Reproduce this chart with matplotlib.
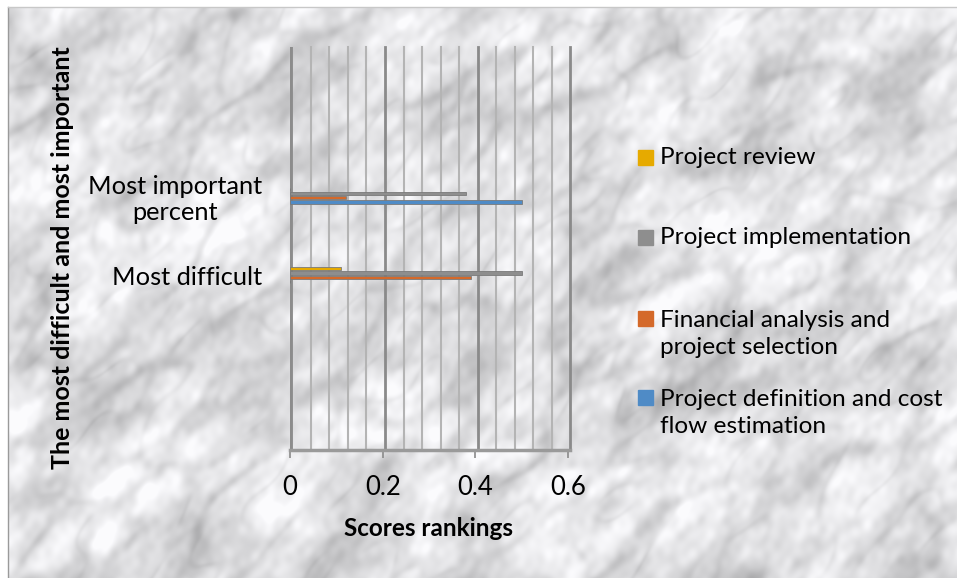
import numpy as np
import matplotlib
matplotlib.use("Agg")
import matplotlib.pyplot as plt
from matplotlib.patches import Rectangle

# ---- data ----
categories = ["Most difficult", "Most important\npercent"]
series_names = [
    "Project review",
    "Project implementation",
    "Financial analysis and\nproject selection",
    "Project definition and cost\nflow estimation",
]
project_review = [0.11, 0.0]
project_implementation = [0.50, 0.38]
financial_analysis = [0.39, 0.12]
project_definition = [0.0, 0.50]
series_values = [project_review, project_implementation, financial_analysis, project_definition]
series_colors = ["#E6AA00", "#8E8E8E", "#D4692A", "#4F8BC6"]
x_ticks = [0, 0.2, 0.4, 0.6]
x_tick_labels = ["0", "0.2", "0.4", "0.6"]

FONT = ["Lato", "DejaVu Sans"]
plt.rcParams["font.family"] = FONT

W, H = 957, 578
fig = plt.figure(figsize=(W / 100, H / 100), dpi=100)
fig.patch.set_facecolor("white")

# ---- marble backdrop (deterministic wave sums, streaks running "/") ----
yy, xx = np.mgrid[0:H, 0:W].astype(float) / 100.0
along = (xx - yy) / np.sqrt(2)
across = (xx + yy) / np.sqrt(2)
golden = 2.399963


def wave_field(n, base, growth, seed, stretch):
    out = np.zeros_like(xx)
    for k in range(1, n + 1):
        ang = k * golden + seed
        f = base * growth ** (k % 9)
        out += np.sin(f * (np.cos(ang) * along * stretch + np.sin(ang) * across)
                      + 1.37 * k + seed) / np.sqrt(f)
    return out / out.std()


blotch = wave_field(30, 3.5, 1.25, 0.3, 0.55)
veins = wave_field(30, 3.0, 1.22, 1.9, 0.5)
veins2 = wave_field(30, 5.0, 1.2, 4.2, 0.6)
grain = wave_field(24, 16.0, 1.2, 3.1, 0.7)
gray = (0.915
        + 0.04 * blotch
        - 0.08 * np.exp(-(veins / 0.5) ** 2)
        - 0.04 * np.exp(-(veins2 / 0.4) ** 2)
        - 0.02 * grain)
gray = np.clip(gray, 0.62, 0.985)
rgb = np.dstack([gray, gray, gray * 1.01]).clip(0, 1)

bg = fig.add_axes([0, 0, 1, 1], zorder=0)
bg.set_xlim(0, W)
bg.set_ylim(H, 0)
bg.axis("off")
bg.imshow(rgb[7:, 8:], extent=(8, W, H, 7), interpolation="bilinear", aspect="auto")
bg.plot([8, 8], [7, H], color="#9a9a9a", lw=1)
bg.plot([8, W], [7, 7], color="#c8c8c8", lw=1)

# ---- plot area ----
left, right, top, bottom = 290, 568, 47, 450
ax = fig.add_axes([left / W, 1 - bottom / H, (right - left) / W, (bottom - top) / H], zorder=2)
ax.patch.set_alpha(0)
ax.set_xlim(0, 0.6)
ax.set_ylim(-2.2, 2.87)

# back wall gridlines
for v in np.arange(0.04, 0.6001, 0.04):
    major = abs(v / 0.2 - round(v / 0.2)) < 1e-6
    ax.axvline(v + 0.005, color="#8a8a8a" if major else "#b4b4b4",
               lw=2.0 if major else 1.5, zorder=1, clip_on=False)
# left wall and floor edge
ax.axvline(0.0, color="#8c8c8c", lw=3.5, zorder=2)
ax.plot([0, 0.605], [-2.2, -2.2], color="#9a9a9a", lw=2.5, zorder=2, clip_on=False)

ypos = np.arange(len(categories))
step = 0.053
for i, (vals, col) in enumerate(zip(series_values, series_colors)):
    off = (1.5 - i) * step
    ax.barh(ypos + off, vals, height=step * 0.8, color=col,
            edgecolor="#7a7a7a", linewidth=0.6, zorder=3)

for s in ax.spines.values():
    s.set_visible(False)
ax.set_xticks(x_ticks)
ax.set_xticklabels(x_tick_labels, fontsize=18.5)
ax.tick_params(axis="x", length=6, width=1.2, color="#8a8a8a", pad=12)
ax.set_yticks(ypos)
ax.set_yticklabels(categories, fontsize=18.3, ha="right", multialignment="center",
                   linespacing=1.2)
ax.tick_params(axis="y", length=0, pad=20)

fig.text(428 / W, 1 - 528 / H, "Scores rankings", fontsize=17.5, fontweight="bold",
         ha="center", va="center", zorder=3)
fig.text(63 / W, 1 - 258 / H, "The most difficult and most important", rotation=90,
         fontsize=18, fontweight="bold", ha="center", va="center", zorder=3)

# ---- legend ----
legend_rows = [157, 237, 334, 413]
for name, col, yc in zip(series_names, series_colors, legend_rows):
    nlines = name.count("\n") + 1
    sq_y = yc - (nlines - 1) * 16
    fig.patches.append(Rectangle((638 / W, 1 - (sq_y + 7.5) / H), 15 / W, 15 / H,
                                 transform=fig.transFigure, color=col, zorder=3))
    fig.text(660 / W, 1 - yc / H, name, fontsize=17.6, ha="left", va="center",
             linespacing=1.3, zorder=3)

fig.savefig("out.png", dpi=100)
